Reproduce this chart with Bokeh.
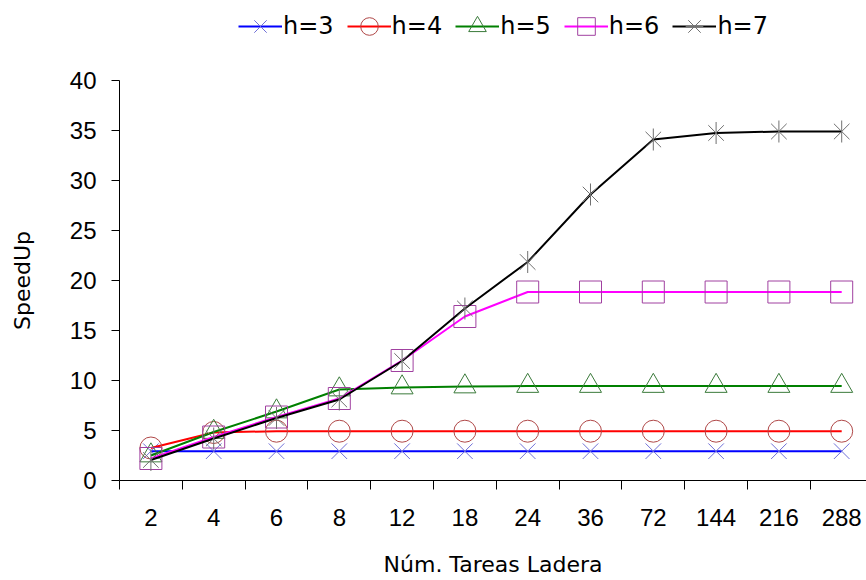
from bokeh.plotting import figure
from bokeh.models import Range1d, FixedTicker, Legend
from bokeh.layouts import column
from bokeh.embed import file_html
from bokeh.resources import INLINE

categories = ["2", "4", "6", "8", "12", "18", "24", "36", "72", "144", "216", "288"]
h3 = [2.93, 2.93, 2.93, 2.93, 2.93, 2.93, 2.93, 2.93, 2.93, 2.93, 2.93, 2.93]
h4 = [3.25, 4.8, 4.93, 4.93, 4.93, 4.93, 4.93, 4.93, 4.93, 4.93, 4.93, 4.93]
h5 = [2.5, 4.85, 6.9, 9.1, 9.3, 9.4, 9.45, 9.45, 9.45, 9.45, 9.45, 9.45]
h6 = [2.2, 4.35, 6.35, 8.2, 12.0, 16.4, 18.85, 18.85, 18.85, 18.85, 18.85, 18.85]
h7 = [2.05, 4.2, 6.25, 8.1, 11.95, 17.2, 21.85, 28.6, 34.1, 34.75, 34.9, 34.9]
y_ticks = [0, 5, 10, 15, 20, 25, 30, 35, 40]
series_labels = ["h=3", "h=4", "h=5", "h=6", "h=7"]

xs = [i + 0.5 for i in range(len(categories))]
bounds = [i for i in range(len(categories) + 1)]

line_colors = ["#0000ff", "#ff0000", "#008000", "#ff00ff", "#000000"]
marker_colors = ["#7070d8", "#b04848", "#3a7a3a", "#a040a0", "#707070"]
markers = ["x", "circle", "triangle", "square", "x"]
data = [h3, h4, h5, h6, h7]


def add_series(fig, msize):
    items = []
    for vals, lab, lc, mc, mk in zip(data, series_labels, line_colors, marker_colors, markers):
        rs = [fig.line(xs, vals, line_color=lc, line_width=2),
              fig.scatter(xs, vals, marker=mk, size=msize, fill_color=None,
                          line_color=mc, line_width=1)]
        if lab == "h=7":
            rs.append(fig.scatter(xs, vals, marker="dash", angle=1.5708, size=msize,
                                  line_color=mc, line_width=1))
        items.append((lab, rs))
    return items


# ---- main chart ----
p = figure(width=866, height=512, output_backend="svg", toolbar_location=None,
           x_range=Range1d(0, 747 / 62.8), y_range=Range1d(0, 40),
           min_border_left=119, min_border_right=0, min_border_top=12,
           min_border_bottom=100)
p.grid.visible = False
p.outline_line_color = None
p.background_fill_color = "white"
p.border_fill_color = "white"

p.yaxis.ticker = FixedTicker(ticks=y_ticks)
p.yaxis.major_tick_out = 8
p.yaxis.major_tick_in = 0
p.yaxis.minor_tick_line_color = None
p.yaxis.major_label_text_font = "Liberation Sans"
p.yaxis.major_label_text_font_size = "24px"
p.yaxis.major_label_text_color = "black"
p.yaxis.major_label_standoff = 15
p.yaxis.axis_line_color = "black"
p.yaxis.major_tick_line_color = "black"
p.yaxis.axis_label = "SpeedUp"
p.yaxis.axis_label_text_font = "DejaVu Sans"
p.yaxis.axis_label_text_font_size = "22px"
p.yaxis.axis_label_text_font_style = "normal"
p.yaxis.axis_label_text_color = "black"
p.yaxis.axis_label_standoff = 32

p.xaxis.ticker = FixedTicker(ticks=xs, minor_ticks=bounds)
p.xaxis.major_tick_line_color = None
p.xaxis.major_tick_out = 9
p.xaxis.major_tick_in = 0
p.xaxis.minor_tick_out = 9
p.xaxis.minor_tick_in = 0
p.xaxis.minor_tick_line_color = "black"
p.xaxis.major_label_overrides = {x: c for x, c in zip(xs, categories)}
p.xaxis.major_label_text_font = "Liberation Sans"
p.xaxis.major_label_text_font_size = "24px"
p.xaxis.major_label_text_color = "black"
p.xaxis.major_label_standoff = 19
p.xaxis.axis_line_color = "black"
p.xaxis.axis_label = "Núm. Tareas Ladera"
p.xaxis.axis_label_text_font = "DejaVu Sans"
p.xaxis.axis_label_text_font_size = "22px"
p.xaxis.axis_label_text_font_style = "normal"
p.xaxis.axis_label_text_color = "black"
p.xaxis.axis_label_standoff = 23

add_series(p, 22)

# ---- legend strip above the chart (its series lie outside its y range) ----
lf = figure(width=866, height=68, output_backend="svg", toolbar_location=None,
            x_range=Range1d(0, 1), y_range=Range1d(1000, 1001),
            x_axis_location=None, y_axis_location=None,
            min_border_left=0, min_border_right=0, min_border_top=0,
            min_border_bottom=0)
lf.grid.visible = False
lf.outline_line_color = None
lf.background_fill_color = "white"
lf.border_fill_color = "white"
items = add_series(lf, 22)

lg = Legend(items=items, location=(119, 20), orientation="horizontal")
lg.border_line_color = None
lg.background_fill_alpha = 0
lg.label_text_font = "DejaVu Sans"
lg.label_text_font_size = "24px"
lg.label_text_color = "black"
lg.glyph_width = 44
lg.glyph_height = 44
lg.label_standoff = 1
lg.spacing = 13
lg.padding = 2
lg.margin = 0
lf.add_layout(lg, "center")

layout = column(lf, p, spacing=0)
open("out.html", "w").write(file_html(layout, INLINE))
